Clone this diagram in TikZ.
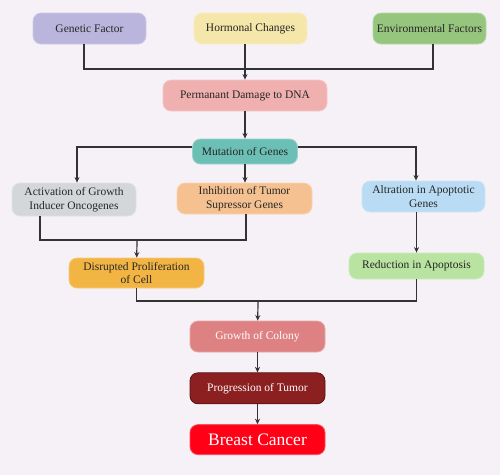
\documentclass[tikz,border=0pt]{standalone}
\usepackage{fontspec}
\setmainfont{Liberation Serif}
\usetikzlibrary{positioning,arrows.meta}
\definecolor{bgcol}{HTML}{F5F1F7}
\definecolor{genc}{HTML}{B9B5DC}
\definecolor{hormc}{HTML}{F5E6A9}
\definecolor{envc}{HTML}{96C67D}
\definecolor{dmgc}{HTML}{F0B0B0}
\definecolor{mutc}{HTML}{6CBFB5}
\definecolor{actc}{HTML}{D4D7DA}
\definecolor{inhc}{HTML}{F6C190}
\definecolor{altc}{HTML}{B9DCF4}
\definecolor{disc}{HTML}{F2B544}
\definecolor{redc}{HTML}{B8E3A0}
\definecolor{growc}{HTML}{DE8182}
\definecolor{progc}{HTML}{8C1F1F}
\definecolor{brcc}{HTML}{FF0016}
\tikzset{node distance=20pt, auto}
\tikzset{
  box/.style={rectangle, rounded corners=8pt, draw=#1!70!white, fill=#1,
    line width=0.8pt, text=black!85, align=center, inner sep=2pt,
    font=\fontsize{11.5}{13.5}\selectfont, minimum height=31pt},
  link/.style={draw=black!80, line width=1.2pt},
  >={Stealth[length=5.5pt,width=5pt]}
}

\begin{document}
\begin{tikzpicture}[x=1pt,y=-1pt]
  \fill[bgcol] (0,0) rectangle (500,475);
  \node[box=genc, minimum width=113pt]  (gen)  at (89.5,28.5)  {Genetic Factor};
  \node[box=hormc, minimum width=113pt] (horm) at (250.5,28.5) {Hormonal Changes};
  \node[box=envc, minimum width=113pt]  (env)  at (429.5,28.5) {Environmental Factors};
  \node[box=dmgc, minimum width=164pt]  (dmg)  at (245,95.5)   {Permanant Damage to DNA};
  \node[box=mutc, minimum width=105pt, minimum height=25pt] (mut) at (245,151.5) {Mutation of Genes};
  \node[box=actc, minimum width=124pt, minimum height=33pt] (act) at (74,199.5) {Activation of Growth\\Inducer Oncogenes};
  \node[box=inhc, minimum width=135pt]  (inh)  at (244.5,198.5) {Inhibition of Tumor\\Supressor Genes};
  \node[box=altc, minimum width=123pt]  (alt)  at (423.5,196.5) {Altration in Apoptotic\\Genes};
  \node[box=disc, minimum width=135pt, minimum height=30pt] (dis) at (136.5,273) {Disrupted Proliferation\\of Cell};
  \node[box=redc, minimum width=135pt, minimum height=26pt] (red) at (416.5,266) {Reduction in Apoptosis};
  \node[box=growc, minimum width=135pt, text=white] (grow) at (257.5,336.5) {Growth of Colony};
  \node[box=progc, draw=progc!60!black, minimum width=135pt, text=white] (prog) [below=of grow] {Progression of Tumor};
  \node[box=brcc, minimum width=135pt, minimum height=30pt, text=white,
    font=\fontsize{17.5}{20}\selectfont] (brc) [below=of prog] {Breast Cancer};

  % causes
  \coordinate (j1) at (245,69);
  \draw[link] ([xshift=-5.5pt]gen.south) |- (j1) -| ([xshift=3.5pt]env.south);
  \draw[link,->] (dmg |- horm.south) -- (dmg);
  \draw[link,->] (dmg) -- (mut);
  % gene changes
  \draw[link,->] ([yshift=4.5pt]mut.west) -| ([xshift=3pt]act.north);
  \draw[link,->] ([yshift=4.5pt]mut.east) -| ([xshift=-7.5pt]alt.north);
  \draw[link,->] (mut) -- (mut |- inh.north);
  \coordinate (j2) at (137,240);
  \draw[link] ([xshift=-34pt]act.south) |- (j2) -| ([xshift=1.5pt]inh.south);
  \draw[link,->] (j2) -- (dis);
  \draw[link,->] (red |- alt.south) -- (red);
  % outcome
  \coordinate (j3) at (258,301);
  \draw[link] (dis) |- (j3) -| (red);
  \draw[link,->] (j3) -- (grow);
  \draw[link,->] (grow) -- (prog);
  \draw[link,->] (prog) -- (brc);
\end{tikzpicture}
\end{document}
